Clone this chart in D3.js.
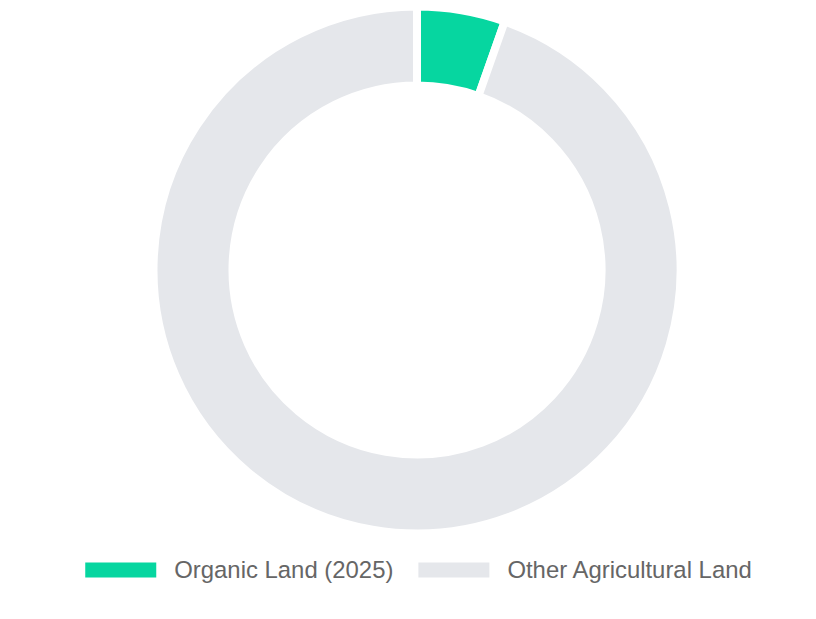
<!DOCTYPE html>
<html>
<head>
<meta charset="utf-8">
<script src="https://cdn.jsdelivr.net/npm/d3@7"></script>
<style>
  html, body { margin: 0; padding: 0; background: #fff; }
  svg { display: block; }
</style>
</head>
<body>
<script>
// data
var labels = ["Organic Land (2025)", "Other Agricultural Land"];
var values = [5.4, 94.6];
var colors = ["#06d6a0", "#e5e7eb"];

var width = 816, height = 619;
var cx = 417, cy = 270;
var outerR = 263.5, innerR = 184.5;

var svg = d3.select("body").append("svg")
    .attr("width", width)
    .attr("height", height);

var pie = d3.pie().sort(null).value(function(d) { return d; });
var arc = d3.arc().innerRadius(innerR).outerRadius(outerR);

var g = svg.append("g").attr("transform", "translate(" + cx + "," + cy + ")");

g.selectAll("path")
  .data(pie(values))
  .enter().append("path")
    .attr("d", arc)
    .attr("fill", function(d, i) { return colors[i]; })
    .attr("stroke", "#fff")
    .attr("stroke-width", 8)
    .attr("stroke-linejoin", "miter");

// legend, centred under the donut
var boxW = 71, boxH = 15, gapText = 18, gapItem = 25, legY = 570;
var legend = svg.append("g");
var items = legend.selectAll("g")
  .data(labels)
  .enter().append("g");

items.append("rect")
    .attr("width", boxW)
    .attr("height", boxH)
    .attr("y", legY - 7.5)
    .attr("fill", function(d, i) { return colors[i]; });

items.append("text")
    .attr("x", boxW + gapText)
    .attr("y", legY)
    .attr("dy", "0.35em")
    .attr("font-family", "'Liberation Sans', Arial, Helvetica, sans-serif")
    .attr("font-size", 23.9)
    .attr("fill", "#666")
    .text(function(d) { return d; });

var x = 0, widths = [];
items.each(function() {
  var w = boxW + gapText + d3.select(this).select("text").node().getComputedTextLength();
  widths.push(w);
});
var total = d3.sum(widths) + gapItem * (widths.length - 1);
x = cx + 1.5 - total / 2;
items.attr("transform", function(d, i) {
  var t = "translate(" + x + ",0)";
  x += widths[i] + gapItem;
  return t;
});
</script>
</body>
</html>
